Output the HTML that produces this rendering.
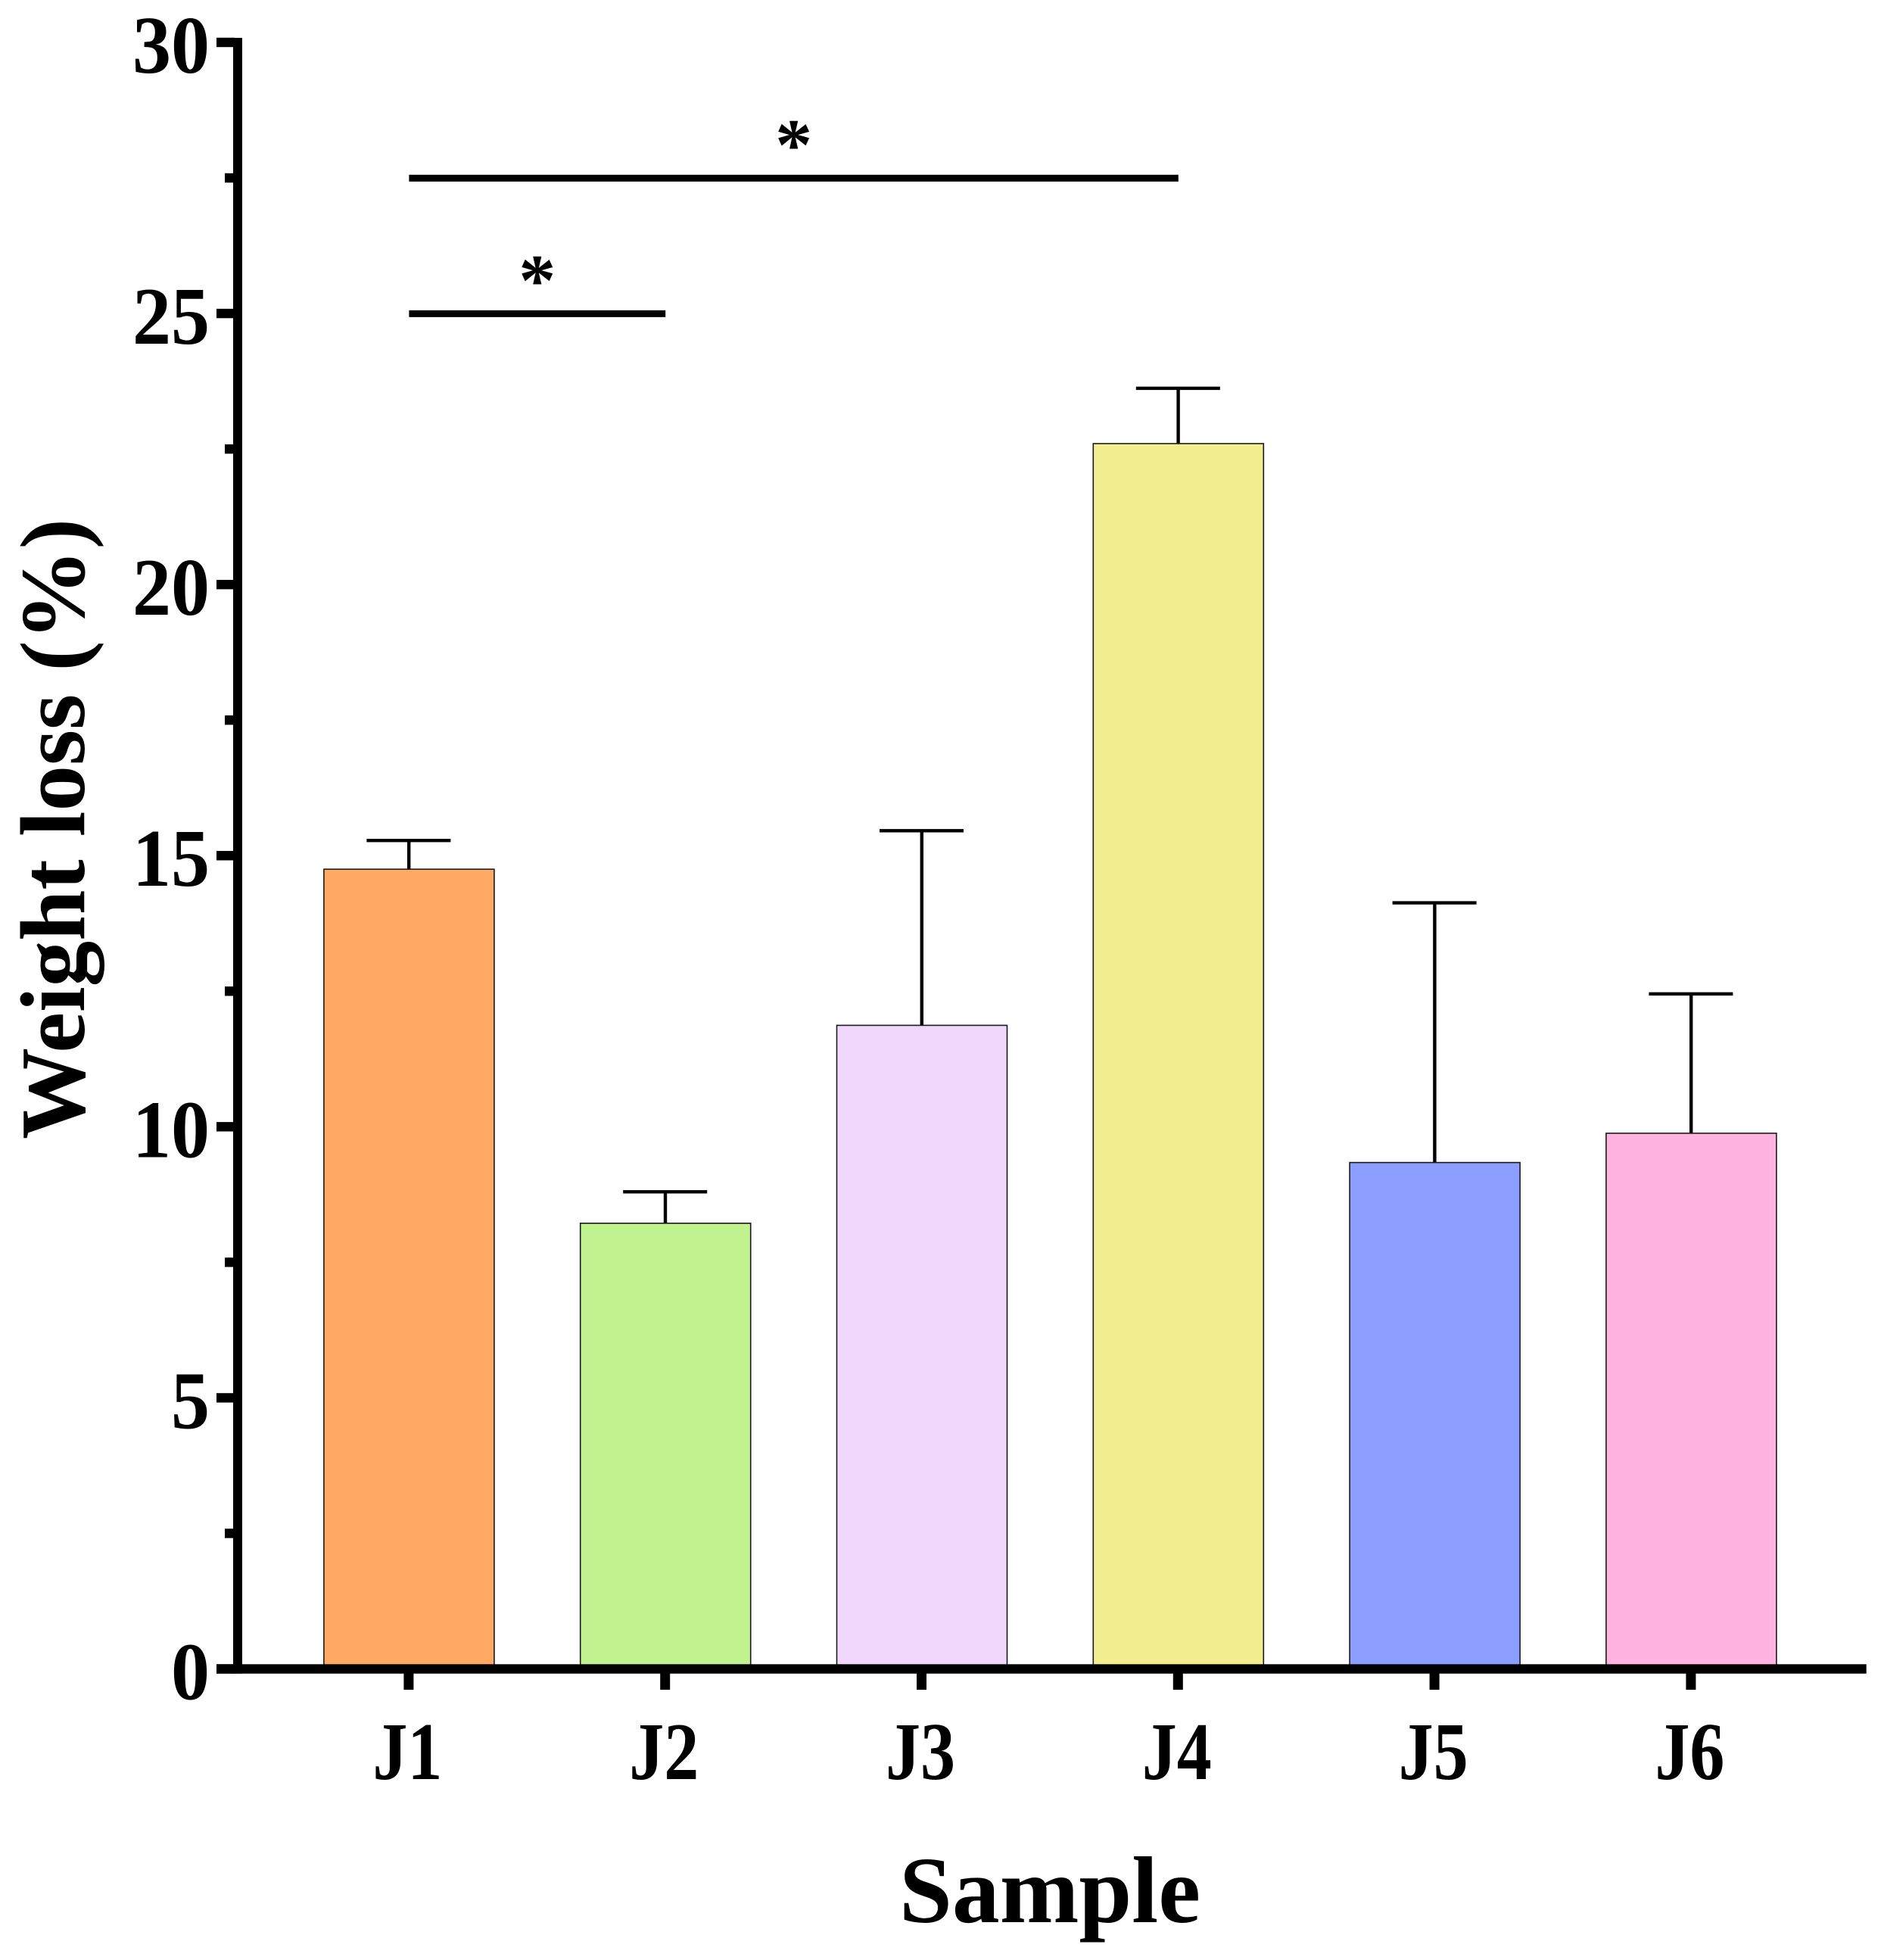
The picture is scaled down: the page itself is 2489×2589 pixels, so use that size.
<!DOCTYPE html>
<html lang="en">
<head>
<meta charset="utf-8">
<title>Weight loss by sample</title>
<style>
html,body{margin:0;padding:0;background:#fff;width:2489px;height:2589px;overflow:hidden}
svg{display:block}
text{font-family:"Liberation Serif",serif;font-weight:bold;fill:#000}
</style>
</head>
<body>
<svg id="chart" xmlns="http://www.w3.org/2000/svg" width="2489" height="2589" viewBox="0 0 2489 2589">
  <rect x="0" y="0" width="2489" height="2589" fill="#ffffff"/>
  <text transform="translate(111 1095) rotate(-90)" text-anchor="middle" font-size="122" textLength="820" lengthAdjust="spacingAndGlyphs">Weight loss (%)</text>
  <text x="1387" y="2539" text-anchor="middle" font-size="125" textLength="398" lengthAdjust="spacingAndGlyphs">Sample</text>
</svg>
<script>
const categories = ['J1', 'J2', 'J3', 'J4', 'J5', 'J6'];
const meanValues = [14.75, 8.22, 11.87, 22.6, 9.34, 9.88];
const errorTops = [15.28, 8.8, 15.46, 23.62, 14.13, 12.45];
const barColors = ['#FFA963', '#C0F390', '#F2D7FD', '#F3EF90', '#8C9EFF', '#FFB3DE'];
const majorTickValues = [0, 5, 10, 15, 20, 25, 30];
const majorTickLabels = ['0', '5', '10', '15', '20', '25', '30'];
const minorTickValues = [2.5, 7.5, 12.5, 17.5, 22.5, 27.5];
const sigStartCategory = [0, 0];
const sigEndCategory = [3, 1];
const sigLevels = [27.5, 25];
const sigLabels = ['*', '*'];

const NS = 'http://www.w3.org/2000/svg';
const svg = document.getElementById('chart');
function xScale(i) { return 540.4 + i * 338.8; }
function yScale(v) { return 2204.5 - v * 71.617; }

function make(tag, parent) {
  const el = document.createElementNS(NS, tag);
  parent.appendChild(el);
  return el;
}
function setRect(el, x, y, w, h, fill) {
  el.setAttribute('x', x);
  el.setAttribute('y', y);
  el.setAttribute('width', w);
  el.setAttribute('height', h);
  el.setAttribute('fill', fill);
}

const BAR_W = 225;
const CAP_HALF = 55.5;

categories.forEach(function (name, i) {
  const g = make('g', svg);
  
  

  const stem = make('rect', g);
  setRect(stem, xScale(i) - 2.4, yScale(errorTops[i]), 4.4, yScale(meanValues[i]) - yScale(errorTops[i]), '#000');
  
  

  const cap = make('rect', g);
  setRect(cap, xScale(i) - CAP_HALF - 0.5, yScale(errorTops[i]) - 2.2, CAP_HALF * 2, 4.4, '#000');
  
  

  const bar = make('rect', g);
  setRect(bar, xScale(i) - BAR_W / 2, yScale(meanValues[i]), BAR_W, yScale(0) - yScale(meanValues[i]), barColors[i]);
  bar.setAttribute('stroke', '#1a1a1a');
  bar.setAttribute('stroke-width', '1.6');
  
  

  const tick = make('rect', svg);
  setRect(tick, xScale(i) - 7, yScale(0), 13, 2232 - yScale(0), '#000');
  
  

  const label = make('text', svg);
  label.setAttribute('x', xScale(i) - 2);
  label.setAttribute('y', 2350);
  label.setAttribute('text-anchor', 'middle');
  label.setAttribute('font-size', '108');
  label.setAttribute('textLength', '92');
  label.setAttribute('lengthAdjust', 'spacingAndGlyphs');
  label.textContent = name;
  
  
});

const yAxis = make('rect', svg);
setRect(yAxis, 308, 50, 12, 2160.7, '#000');



const xAxis = make('rect', svg);
setRect(xAxis, 286, 2198.3, 2179.7, 12.4, '#000');



majorTickValues.forEach(function (v, i) {
  const tick = make('rect', svg);
  setRect(tick, 286, yScale(v) - 6.2, 24, 12.4, '#000');
  
  

  const label = make('text', svg);
  label.setAttribute('x', 277);
  label.setAttribute('y', yScale(v) + 40);
  label.setAttribute('text-anchor', 'end');
  label.setAttribute('font-size', '108');
  label.setAttribute('textLength', majorTickLabels[i].length * 51);
  label.setAttribute('lengthAdjust', 'spacingAndGlyphs');
  label.textContent = majorTickLabels[i];
  
  
});

minorTickValues.forEach(function (v) {
  const tick = make('rect', svg);
  setRect(tick, 297, yScale(v) - 6.2, 13, 12.4, '#000');
  
  
});

sigLevels.forEach(function (level, i) {
  const x0 = xScale(sigStartCategory[i]);
  const x1 = xScale(sigEndCategory[i]);
  const line = make('rect', svg);
  setRect(line, x0, yScale(level) - 4.2, x1 - x0, 9, '#000');
  
  

  const star = make('text', svg);
  star.setAttribute('x', (x0 + x1) / 2);
  star.setAttribute('y', yScale(level) - 11);
  star.setAttribute('text-anchor', 'middle');
  star.setAttribute('font-size', '98');
  star.textContent = sigLabels[i];
  
  
});
</script>
</body>
</html>
